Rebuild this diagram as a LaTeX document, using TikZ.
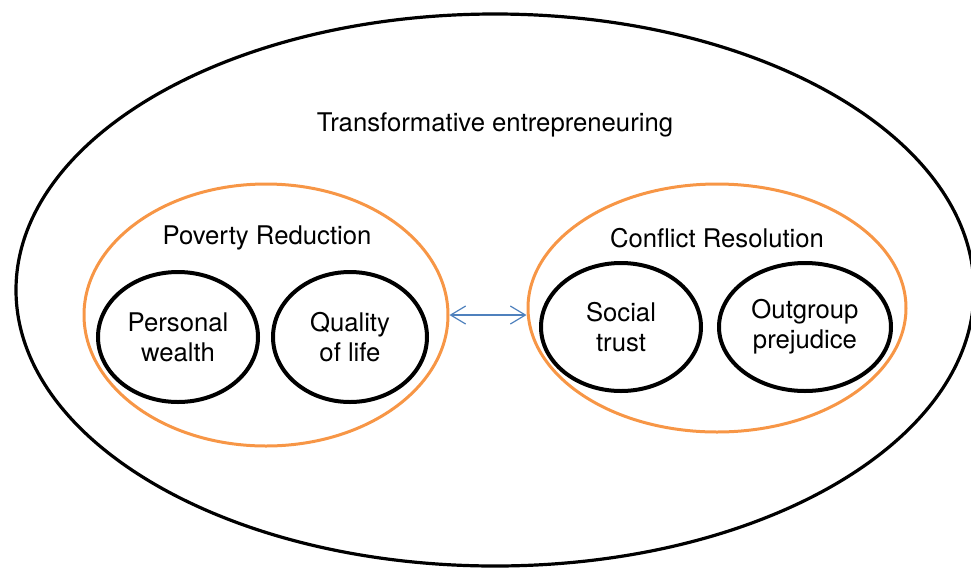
\documentclass[tikz,border=0pt]{standalone}
\usepackage{fontspec}
\setmainfont{TeX Gyre Heros}
\usetikzlibrary{shapes.geometric,arrows.meta}
\definecolor{ringorange}{HTML}{F79646}
\definecolor{linkblue}{HTML}{4F81BD}

\begin{document}
\begin{tikzpicture}
                \tikzset{x=0.5pt, y=-0.5pt}
                \tikzstyle{every node}=[font=\fontsize{12.85}{15}\selectfont]
                \tikzstyle{ring}=[ellipse, draw, inner sep=0pt, align=center]
                \tikzstyle{field}=[ring, line width=1.6pt]
                \tikzstyle{group}=[ring, draw=ringorange, line width=1.5pt]
                \tikzstyle{factor}=[ring, line width=2pt]
                \tikzstyle{link}=[draw=linkblue, line width=0.6pt,
                    {Straight Barb[length=7.5pt, width=9pt]}-{Straight Barb[length=7.5pt, width=9pt]}]

                \useasboundingbox (0, 0) rectangle (971, 569);

                \draw (495, 290)    node[field, minimum width=479pt, minimum height=276pt] (field) {};
                \draw (495, 125)    node                (title)     {Transformative entrepreneuring};

                \draw (266, 315)    node[group, minimum width=182pt, minimum height=131pt] (poverty) {};
                \draw (267, 238)    node                (povlabel)  {Poverty Reduction};
                \draw (178, 337)    node[factor, minimum width=80pt, minimum height=65pt] (wealth)  {Personal\\wealth};
                \draw (350, 337)    node[factor, minimum width=77pt, minimum height=65pt] (quality) {Quality\\of life};

                \draw (717, 308)    node[group, minimum width=189pt, minimum height=124pt] (conflict) {};
                \draw (717, 238)    node                (conlabel)  {Conflict Resolution};
                \draw (621, 327)    node[factor, minimum width=80pt, minimum height=64pt] (trust)     {Social\\trust};
                \draw (805, 327)    node[factor, minimum width=86pt, minimum height=64pt] (prejudice) {Outgroup\\prejudice};

                \draw [link]        (poverty.east) -- (poverty.east -| conflict.west);
            \end{tikzpicture}
\end{document}
